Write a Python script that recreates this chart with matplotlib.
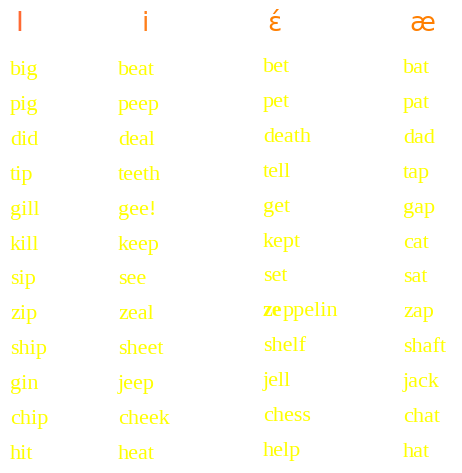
import matplotlib
matplotlib.use("Agg")
import matplotlib.pyplot as plt

headers = ["I", "i", "\u025b\u0301", "\u00e6"]
header_colors = ["#ff6a33", "#ff7f1a", "#ff7f00", "#ff7f00"]
col1 = ["big","pig","did","tip","gill","kill","sip","zip","ship","gin","chip","hit"]
col2 = ["beat","peep","deal","teeth","gee!","keep","see","zeal","sheet","jeep","cheek","heat"]
col3 = ["bet","pet","death","tell","get","kept","set","zeppelin","shelf","jell","chess","help"]
col4 = ["bat","pat","dad","tap","gap","cat","sat","zap","shaft","jack","chat","hat"]

W, H = 462, 473
fig = plt.figure(figsize=(W/100, H/100), dpi=100)
fig.patch.set_facecolor("white")

def T(x, y, s, **kw):
    return fig.text(x/W, 1 - y/H, s, **kw)

hx = [19, 145, 274, 422]
for x, h, c in zip(hx, headers, header_colors):
    T(x, 31, h, ha="center", va="baseline", fontsize=19, color=c, family="DejaVu Sans")

cols = [col1, col2, col3, col4]
cx = [10, 118, 263, 403]
y0 = [75, 75, 72, 73]
yellow = "#ffff00"
fs = 16
fig.canvas.draw()
r = fig.canvas.get_renderer()
for ci, (words, x) in enumerate(zip(cols, cx)):
    for ri, w in enumerate(words):
        y = y0[ci] + ri * 34.9
        if w == "zeppelin":
            t = T(x, y, "ze", ha="left", va="baseline", fontsize=fs, color=yellow,
                  family="Liberation Serif", weight="bold")
            bb = t.get_window_extent(renderer=r)
            T(x + bb.width, y, "ppelin", ha="left", va="baseline", fontsize=fs,
              color=yellow, family="Liberation Serif")
        else:
            T(x, y, w, ha="left", va="baseline", fontsize=fs, color=yellow,
              family="Liberation Serif")

fig.savefig("out.png", dpi=100, facecolor="white")
